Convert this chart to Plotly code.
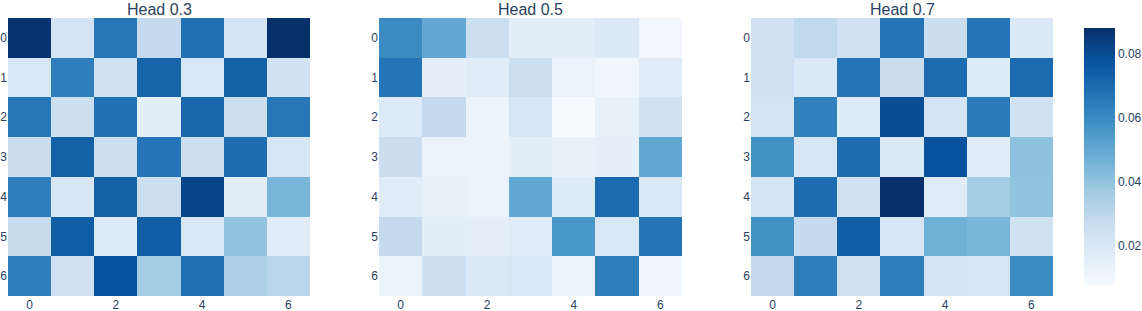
import plotly.graph_objects as go
from plotly.subplots import make_subplots

titles = ["Head 0.3", "Head 0.5", "Head 0.7"]
idx = [0, 1, 2, 3, 4, 5, 6]

head_03 = [
    [0.087, 0.022, 0.066, 0.028, 0.068, 0.022, 0.088],
    [0.020, 0.064, 0.024, 0.072, 0.020, 0.073, 0.023],
    [0.066, 0.025, 0.068, 0.016, 0.071, 0.025, 0.066],
    [0.026, 0.073, 0.025, 0.067, 0.025, 0.069, 0.021],
    [0.064, 0.021, 0.073, 0.025, 0.082, 0.016, 0.045],
    [0.027, 0.074, 0.018, 0.074, 0.020, 0.040, 0.017],
    [0.064, 0.024, 0.078, 0.036, 0.068, 0.034, 0.031],
]
head_05 = [
    [0.060, 0.050, 0.025, 0.016, 0.016, 0.019, 0.010],
    [0.067, 0.015, 0.017, 0.025, 0.013, 0.011, 0.017],
    [0.018, 0.028, 0.012, 0.021, 0.0076, 0.014, 0.023],
    [0.026, 0.013, 0.012, 0.016, 0.014, 0.015, 0.050],
    [0.017, 0.014, 0.013, 0.050, 0.018, 0.070, 0.020],
    [0.028, 0.016, 0.015, 0.017, 0.056, 0.020, 0.067],
    [0.013, 0.025, 0.019, 0.020, 0.013, 0.064, 0.011],
]
head_07 = [
    [0.024, 0.029, 0.024, 0.067, 0.026, 0.067, 0.019],
    [0.024, 0.019, 0.067, 0.026, 0.070, 0.018, 0.070],
    [0.022, 0.063, 0.018, 0.079, 0.022, 0.065, 0.023],
    [0.058, 0.021, 0.069, 0.019, 0.078, 0.017, 0.041],
    [0.022, 0.069, 0.023, 0.0878, 0.017, 0.036, 0.040],
    [0.058, 0.028, 0.074, 0.021, 0.047, 0.045, 0.023],
    [0.028, 0.064, 0.024, 0.064, 0.022, 0.021, 0.060],
]
heads = [head_03, head_05, head_07]

fig = make_subplots(rows=1, cols=3, subplot_titles=titles)
for i, z in enumerate(heads):
    fig.add_trace(go.Heatmap(z=z, x=idx, y=idx, coloraxis="coloraxis"), row=1, col=i + 1)

W, L, R = 1142, 8, 0
pw = W - L - R
px = [(8, 310), (379, 682), (751, 1053)]
for i, (a, b) in enumerate(px):
    xa = "xaxis" if i == 0 else f"xaxis{i+1}"
    ya = "yaxis" if i == 0 else f"yaxis{i+1}"
    fig.layout[xa].domain = [(a - L) / pw, (b - L) / pw]
    fig.layout[ya].autorange = "reversed"
    fig.layout[xa].showgrid = False
    fig.layout[ya].showgrid = False
    fig.layout[xa].zeroline = False
    fig.layout[ya].zeroline = False
    ann = fig.layout.annotations[i]
    ann.x = ((a + b) / 2 - L) / pw
    ann.font = dict(size=16, color="#2a3f5f", family="Arial")
    ann.yshift = -2

fig.update_layout(
    template="plotly_white",
    width=1142, height=311,
    margin=dict(l=L, r=R, t=18, b=15, autoexpand=False),
    coloraxis=dict(
        colorscale="Blues",
        colorbar=dict(
            x=(1084 - L) / pw, xanchor="left", xpad=0, ypad=0,
            thickness=31, lenmode="pixels", len=258, y=0.5, yanchor="middle",
            outlinewidth=0, tickfont=dict(size=12),
            tickvals=[0.02, 0.04, 0.06, 0.08],
        ),
    ),
    font=dict(size=12, color="#2a3f5f", family="Arial"),
)
fig.write_html(
    "out.html",
    config={"displayModeBar": False},
    post_script="document.body.style.margin='0px';document.body.style.overflow='hidden';",
)
